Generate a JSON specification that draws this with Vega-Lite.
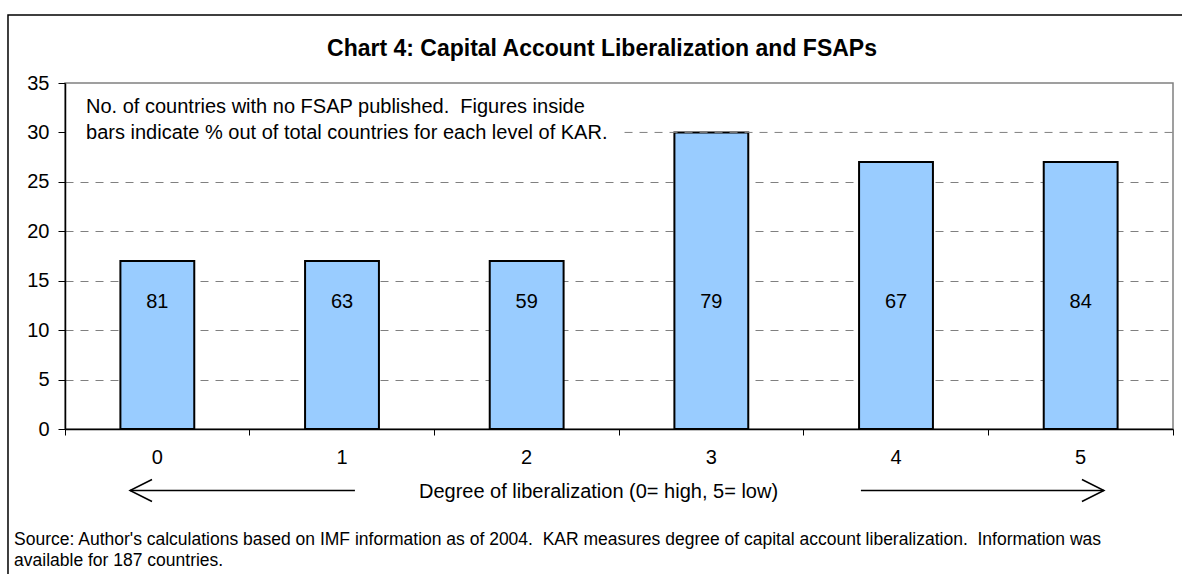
{
  "$schema": "https://vega.github.io/schema/vega-lite/v6.json",
  "width": 1108,
  "height": 346,
  "autosize": "none",
  "padding": {"left": 65, "top": 83, "right": 9, "bottom": 145},
  "background": "white",
  "config": {
    "font": "Liberation Sans",
    "view": {"stroke": "#808080", "strokeWidth": 1.5}
  },
  "title": {
    "text": "Chart 4: Capital Account Liberalization and FSAPs",
    "font": "Liberation Sans",
    "fontSize": 23,
    "fontWeight": "bold",
    "color": "black",
    "anchor": "middle",
    "frame": "group",
    "dx": -17,
    "offset": 0,
    "dy": 65,
    "baseline": "alphabetic"
  },
  "data": {
    "values": [
      {"kar": "0", "count": 17, "pct": 81},
      {"kar": "1", "count": 17, "pct": 63},
      {"kar": "2", "count": 17, "pct": 59},
      {"kar": "3", "count": 30, "pct": 79},
      {"kar": "4", "count": 27, "pct": 67},
      {"kar": "5", "count": 27, "pct": 84}
    ]
  },
  "layer": [
    {
      "mark": {"type": "bar", "fill": "#99CCFF", "stroke": "black", "strokeWidth": 2, "width": {"band": 0.4}},
      "encoding": {
        "x": {
          "field": "kar",
          "type": "nominal",
          "scale": {"paddingInner": 0, "paddingOuter": 0},
          "axis": {
            "title": "Degree of liberalization (0= high, 5= low)",
            "bandPosition": 1,
            "tickExtra": true,
            "labelAngle": 0,
            "tickSize": 6,
            "tickColor": "black",
            "domainColor": "black",
            "domainWidth": 1.5,
            "labelFontSize": 20,
            "labelColor": "black",
            "labelPadding": 12,
            "titleFontSize": 20,
            "titleFontWeight": "normal",
            "titleColor": "black",
            "titleX": 533,
            "titleY": 68,
            "titleBaseline": "alphabetic"
          }
        },
        "y": {
          "field": "count",
          "type": "quantitative",
          "scale": {"domain": [0, 35], "nice": false},
          "axis": {
            "title": null,
            "values": [0, 5, 10, 15, 20, 25, 30, 35],
            "tickSize": 7,
            "tickColor": "black",
            "domainColor": "black",
            "domainWidth": 1.5,
            "labelFontSize": 20,
            "labelColor": "black",
            "labelPadding": 9,
            "grid": true,
            "gridColor": "#808080",
            "gridDash": [8, 7],
            "gridWidth": 1,
            "gridOpacity": {"condition": {"test": "datum.value == 30 || datum.value == 0 || datum.value == 35", "value": 0}, "value": 1}
          }
        }
      }
    },
    {
      "data": {"values": [{}]},
      "mark": {"type": "rect", "fill": "transparent", "stroke": "black", "strokeWidth": 1.5},
      "encoding": {
        "x": {"datum": "0", "bandPosition": -0.3087},
        "x2": {"datum": "5", "bandPosition": 1.2},
        "y": {"datum": 41.88},
        "y2": {"datum": -20}
      }
    },
    {
      "data": {"values": [{}]},
      "mark": {"type": "rule", "color": "#808080", "strokeDash": [8, 7], "strokeWidth": 1},
      "encoding": {
        "x": {"datum": "3", "bandPosition": 0.03},
        "x2": {"datum": "5", "bandPosition": 1},
        "y": {"datum": 30}
      }
    },
    {
      "mark": {"type": "text", "fontSize": 20, "color": "black", "baseline": "middle"},
      "encoding": {
        "x": {"field": "kar", "type": "nominal"},
        "y": {"datum": 12.8},
        "text": {"field": "pct"}
      }
    },
    {
      "data": {"values": [{}]},
      "mark": {"type": "text", "fontSize": 20, "color": "black", "align": "left", "baseline": "alphabetic", "lineHeight": 25.5},
      "encoding": {
        "x": {"datum": "0", "bandPosition": 0.114},
        "y": {"datum": 31.96},
        "text": {"value": ["No. of countries with no FSAP published.\u00a0 Figures inside", "bars indicate % out of total countries for each level of KAR."]}
      }
    },
    {
      "data": {"values": [{}]},
      "mark": {"type": "text", "fontSize": 17.5, "color": "black", "align": "left", "baseline": "alphabetic", "lineHeight": 21.5},
      "encoding": {
        "x": {"datum": "0", "bandPosition": -0.276},
        "y": {"datum": -11.73},
        "text": {"value": ["Source: Author's calculations based on IMF information as of 2004.\u00a0 KAR measures degree of capital account liberalization.\u00a0 Information was", "available for 187 countries."]}
      }
    },
    {
      "data": {"values": [{}]},
      "mark": {"type": "rule", "color": "black", "strokeWidth": 1.5},
      "encoding": {
        "x": {"datum": "0", "bandPosition": 0.352},
        "x2": {"datum": "1", "bandPosition": 0.57},
        "y": {"datum": -6.22}
      }
    },
    {
      "data": {"values": [{}]},
      "mark": {"type": "rule", "color": "black", "strokeWidth": 1.5},
      "encoding": {
        "x": {"datum": "4", "bandPosition": 0.31},
        "x2": {"datum": "5", "bandPosition": 0.626},
        "y": {"datum": -6.22}
      }
    },
    {
      "data": {"values": [{}]},
      "mark": {"type": "point", "shape": "M2,-1L0,0L2,1", "size": 484, "filled": false, "color": "black", "strokeWidth": 1.5, "opacity": 1},
      "encoding": {
        "x": {"datum": "0", "bandPosition": 0.352},
        "y": {"datum": -6.22}
      }
    },
    {
      "data": {"values": [{}]},
      "mark": {"type": "point", "shape": "M-2,-1L0,0L-2,1", "size": 484, "filled": false, "color": "black", "strokeWidth": 1.5, "opacity": 1},
      "encoding": {
        "x": {"datum": "5", "bandPosition": 0.626},
        "y": {"datum": -6.22}
      }
    }
  ]
}
